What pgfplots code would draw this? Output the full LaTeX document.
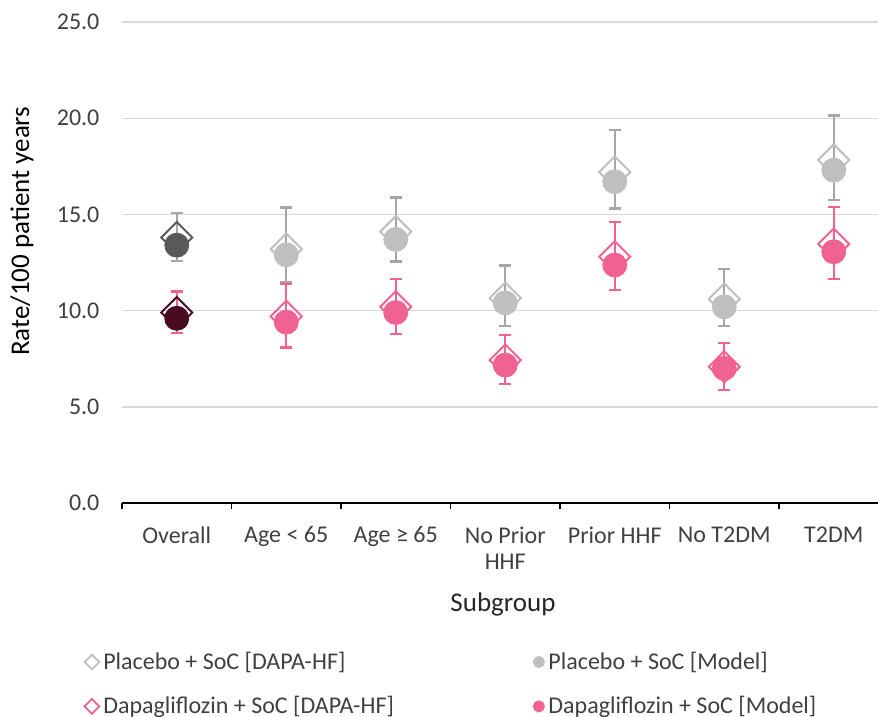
\documentclass[border=0pt]{standalone}
\usepackage{pgfplots}
\pgfplotsset{compat=1.18}
\usepackage{fontspec}
\setmainfont{Carlito}
\definecolor{plgray}{HTML}{BFBFBF}
\definecolor{plerr}{HTML}{A6A6A6}
\definecolor{pldark}{HTML}{595959}
\definecolor{dpink}{HTML}{F06292}
\definecolor{dmaroon}{HTML}{4A0A22}
\definecolor{gridc}{HTML}{D9D9D9}
\pgfplotstableread{
x dpl mpl ep em ddp mdp edp edm
1 13.2 12.9 2.45 1.45 9.7 9.4 1.98 1.33
2 14.1 13.7 2.17 1.16 10.2 9.9 1.74 1.12
3 10.65 10.4 1.93 1.2 7.43 7.17 1.56 0.99
4 17.2 16.7 2.69 1.4 12.8 12.37 2.23 1.30
5 10.6 10.2 1.96 1.0 7.08 7.0 1.32 1.13
6 17.83 17.3 2.83 1.55 13.46 13.06 2.32 1.42
}\subgroups
\pgfplotstableread{
x dpl mpl ep em ddp mdp edp edm
0 13.8 13.4 1.67 0.82 9.9 9.6 1.4 0.76
}\overall
\begin{document}
\begin{tikzpicture}
\useasboundingbox (-61pt,-107pt) rectangle (378pt,251.5pt);
\begin{axis}[
  at={(0,0)}, anchor=south west,
  scale only axis, width=378pt, height=240.5pt,
  xmin=-0.5, xmax=6.404, ymin=0, ymax=25,
  axis lines*=left,
  y axis line style={draw=none},
  x axis line style={black, line width=1.1pt},
  xtick={0,...,6},
  xticklabels={Overall, Age < 65, Age ≥ 65, {No Prior\\HHF}, Prior HHF, No T2DM, T2DM},
  xticklabel style={align=center, text=black!75, font=\fontsize{12}{13}\selectfont, yshift=-4pt},
  major x tick style={draw=none},
  minor xtick={-0.5,0.5,1.5,2.5,3.5,4.5,5.5},
  minor x tick style={black, line width=0.8pt},
  minor tick length=3pt,
  tick align=outside,
  ytick={0,5,...,25},
  /pgf/number format/fixed, /pgf/number format/fixed zerofill, /pgf/number format/precision=1,
  /pgf/number format/assume math mode=true,
  yticklabel style={text=black!75, font=\fontsize{12}{13}\selectfont, xshift=-3.5pt},
  major y tick style={draw=none},
  ymajorgrids, grid style={gridc, line width=0.7pt},
  ylabel={Rate/100 patient years},
  ylabel style={font=\fontsize{13.5}{15}\selectfont, at={(axis description cs:0,0.565)}, anchor=center, yshift=50pt},
  xlabel={Subgroup},
  xlabel style={font=\fontsize{13.5}{15}\selectfont, text=black!85, at={(axis description cs:0.504,0)}, anchor=center, yshift=-50.5pt},
  legend columns=2,
  legend cell align=left,
  legend style={draw=none, fill=none, at={(axis description cs:-0.058,-0.292)}, anchor=north west,
    font=\fontsize{12}{13}\selectfont, row sep=8pt, text=black!75,
    /tikz/every even column/.append style={column sep=0pt}},
  clip=false,
]
\addlegendimage{only marks, mark=square, mark size=2.6pt, mark options={draw=plgray, fill=white, line width=0.9pt, rotate=45}}
\addlegendentry{\makebox[213pt][l]{Placebo + SoC [DAPA-HF]}}
\addlegendimage{only marks, mark=*, mark size=2.8pt, mark options={draw=plgray, fill=plgray}}
\addlegendentry{Placebo + SoC [Model]}
\addlegendimage{only marks, mark=square, mark size=2.6pt, mark options={draw=dpink, fill=white, line width=0.9pt, rotate=45}}
\addlegendentry{\makebox[213pt][l]{Dapagliflozin + SoC [DAPA-HF]}}
\addlegendimage{only marks, mark=*, mark size=2.8pt, mark options={draw=dpink, fill=dpink}}
\addlegendentry{Dapagliflozin + SoC [Model]}

\addplot[forget plot, only marks, mark=*, mark size=6pt, color=plgray, mark options={fill=plgray, draw=plgray},
  error bars/.cd, y dir=both, y explicit, error bar style={plerr, line width=1pt},
  error mark options={plerr, line width=1.3pt, mark size=3pt, rotate=90}]
  table[x=x, y=mpl, y error plus=ep, y error minus=em] {\subgroups};
\addplot[forget plot, only marks, mark=square, mark size=5.5pt,
  mark options={draw=plgray, fill=none, line width=1pt, rotate=45}]
  table[x=x, y=dpl] {\subgroups};
\addplot[forget plot, only marks, mark=*, mark size=6pt, color=dpink, mark options={fill=dpink, draw=dpink},
  error bars/.cd, y dir=both, y explicit, error bar style={dpink, line width=1pt},
  error mark options={dpink, line width=1.3pt, mark size=3pt, rotate=90}]
  table[x=x, y=mdp, y error plus=edp, y error minus=edm] {\subgroups};
\addplot[forget plot, only marks, mark=square, mark size=5.5pt,
  mark options={draw=dpink, fill=none, line width=1pt, rotate=45}]
  table[x=x, y=ddp] {\subgroups};

\addplot[forget plot, only marks, mark=*, mark size=6pt, color=pldark, mark options={fill=pldark, draw=pldark},
  error bars/.cd, y dir=both, y explicit, error bar style={plerr, line width=1pt},
  error mark options={plerr, line width=1.3pt, mark size=3pt, rotate=90}]
  table[x=x, y=mpl, y error plus=ep, y error minus=em] {\overall};
\addplot[forget plot, only marks, mark=square, mark size=5.5pt,
  mark options={draw=pldark, fill=none, line width=1pt, rotate=45}]
  table[x=x, y=dpl] {\overall};
\addplot[forget plot, only marks, mark=*, mark size=6pt, color=dmaroon, mark options={fill=dmaroon, draw=dmaroon},
  error bars/.cd, y dir=both, y explicit, error bar style={dpink, line width=1pt},
  error mark options={dpink, line width=1.3pt, mark size=3pt, rotate=90}]
  table[x=x, y=mdp, y error plus=edp, y error minus=edm] {\overall};
\addplot[forget plot, only marks, mark=square, mark size=5.5pt,
  mark options={draw=dmaroon, fill=none, line width=1pt, rotate=45}]
  table[x=x, y=ddp] {\overall};
\end{axis}
\end{tikzpicture}
\end{document}
